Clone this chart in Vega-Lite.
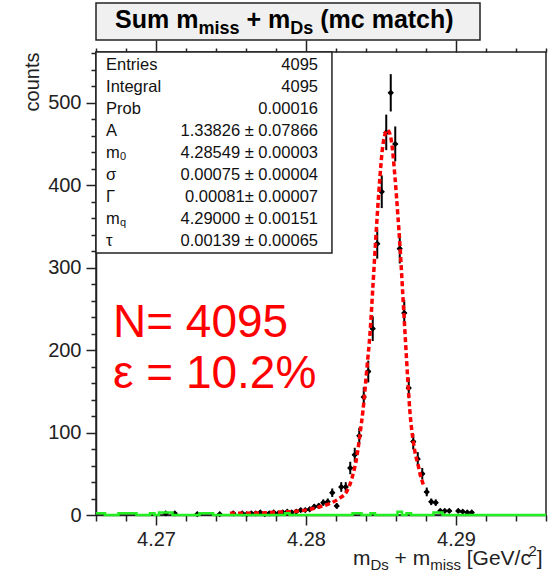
{
  "$schema": "https://vega.github.io/schema/vega-lite/v6.json",
  "width": 450,
  "height": 463,
  "autosize": {"type": "none"},
  "padding": {"left": 96, "top": 52, "right": 11, "bottom": 62},
  "background": "white",
  "config": {
    "view": {"stroke": "#222", "strokeWidth": 1.5},
    "font": "Liberation Sans",
    "axis": {"domainColor": "#222", "tickColor": "#222", "domainWidth": 1.5, "tickWidth": 1.5, "labelColor": "#222", "labelFont": "Liberation Sans", "labelFontSize": 20, "grid": false}
  },
  "datasets": {
    "hist": [
      {"x":4.27065,"xlo":4.2705,"xhi":4.2708,"n":2,"lo":0.586,"hi":3.414},
      {"x":4.27125,"xlo":4.2711,"xhi":4.2714,"n":2,"lo":0.586,"hi":3.414},
      {"x":4.27275,"xlo":4.2726,"xhi":4.2729,"n":1,"lo":0,"hi":2},
      {"x":4.27425,"xlo":4.2741,"xhi":4.2744,"n":1,"lo":0,"hi":2},
      {"x":4.27515,"xlo":4.275,"xhi":4.2753,"n":2,"lo":0.586,"hi":3.414},
      {"x":4.27575,"xlo":4.2756,"xhi":4.2759,"n":2,"lo":0.586,"hi":3.414},
      {"x":4.27605,"xlo":4.2759,"xhi":4.2762,"n":1,"lo":0,"hi":2},
      {"x":4.27635,"xlo":4.2762,"xhi":4.2765,"n":2,"lo":0.586,"hi":3.414},
      {"x":4.27665,"xlo":4.2765,"xhi":4.2768,"n":2,"lo":0.586,"hi":3.414},
      {"x":4.27695,"xlo":4.2768,"xhi":4.2771,"n":3,"lo":1.268,"hi":4.732},
      {"x":4.27725,"xlo":4.2771,"xhi":4.2774,"n":1,"lo":0,"hi":2},
      {"x":4.27755,"xlo":4.2774,"xhi":4.2777,"n":2,"lo":0.586,"hi":3.414},
      {"x":4.27785,"xlo":4.2777,"xhi":4.278,"n":3,"lo":1.268,"hi":4.732},
      {"x":4.27815,"xlo":4.278,"xhi":4.2783,"n":2,"lo":0.586,"hi":3.414},
      {"x":4.27845,"xlo":4.2783,"xhi":4.2786,"n":3,"lo":1.268,"hi":4.732},
      {"x":4.27875,"xlo":4.2786,"xhi":4.2789,"n":4,"lo":2,"hi":6},
      {"x":4.27905,"xlo":4.2789,"xhi":4.2792,"n":3,"lo":1.268,"hi":4.732},
      {"x":4.27935,"xlo":4.2792,"xhi":4.2795,"n":4,"lo":2,"hi":6},
      {"x":4.27965,"xlo":4.2795,"xhi":4.2798,"n":6,"lo":3.551,"hi":8.449},
      {"x":4.27995,"xlo":4.2798,"xhi":4.2801,"n":6,"lo":3.551,"hi":8.449},
      {"x":4.28025,"xlo":4.2801,"xhi":4.2804,"n":7,"lo":4.354,"hi":9.646},
      {"x":4.28055,"xlo":4.2804,"xhi":4.2807,"n":10,"lo":6.838,"hi":13.162},
      {"x":4.28085,"xlo":4.2807,"xhi":4.281,"n":11,"lo":7.683,"hi":14.317},
      {"x":4.28115,"xlo":4.281,"xhi":4.2813,"n":15,"lo":11.127,"hi":18.873},
      {"x":4.28145,"xlo":4.2813,"xhi":4.2816,"n":16,"lo":12,"hi":20},
      {"x":4.28175,"xlo":4.2816,"xhi":4.2819,"n":27,"lo":21.804,"hi":32.196},
      {"x":4.28205,"xlo":4.2819,"xhi":4.2822,"n":11,"lo":7.683,"hi":14.317},
      {"x":4.28235,"xlo":4.2822,"xhi":4.2825,"n":34,"lo":28.169,"hi":39.831},
      {"x":4.28265,"xlo":4.2825,"xhi":4.2828,"n":34,"lo":28.169,"hi":39.831},
      {"x":4.28295,"xlo":4.2828,"xhi":4.2831,"n":57,"lo":49.45,"hi":64.55},
      {"x":4.28325,"xlo":4.2831,"xhi":4.2834,"n":73,"lo":64.456,"hi":81.544},
      {"x":4.28355,"xlo":4.2834,"xhi":4.2837,"n":96,"lo":86.202,"hi":105.798},
      {"x":4.28385,"xlo":4.2837,"xhi":4.284,"n":143,"lo":131.04,"hi":154.96},
      {"x":4.28415,"xlo":4.284,"xhi":4.2843,"n":174,"lo":160.81,"hi":187.19},
      {"x":4.28445,"xlo":4.2843,"xhi":4.2846,"n":226,"lo":210.97,"hi":241.03},
      {"x":4.28475,"xlo":4.2846,"xhi":4.2849,"n":329,"lo":310.86,"hi":347.14},
      {"x":4.28505,"xlo":4.2849,"xhi":4.2852,"n":392,"lo":372.2,"hi":411.8},
      {"x":4.28535,"xlo":4.2852,"xhi":4.2855,"n":464,"lo":442.46,"hi":485.54},
      {"x":4.28565,"xlo":4.2855,"xhi":4.2858,"n":512,"lo":489.37,"hi":534.63},
      {"x":4.28595,"xlo":4.2858,"xhi":4.2861,"n":450,"lo":428.79,"hi":471.21},
      {"x":4.28625,"xlo":4.2861,"xhi":4.2864,"n":323,"lo":305.03,"hi":340.97},
      {"x":4.28655,"xlo":4.2864,"xhi":4.2867,"n":245,"lo":229.35,"hi":260.65},
      {"x":4.28685,"xlo":4.2867,"xhi":4.287,"n":154,"lo":141.59,"hi":166.41},
      {"x":4.28715,"xlo":4.287,"xhi":4.2873,"n":89,"lo":79.566,"hi":98.434},
      {"x":4.28745,"xlo":4.2873,"xhi":4.2876,"n":68,"lo":59.754,"hi":76.246},
      {"x":4.28775,"xlo":4.2876,"xhi":4.2879,"n":50,"lo":42.929,"hi":57.071},
      {"x":4.28805,"xlo":4.2879,"xhi":4.2882,"n":28,"lo":22.708,"hi":33.292},
      {"x":4.28835,"xlo":4.2882,"xhi":4.2885,"n":16,"lo":12,"hi":20},
      {"x":4.28865,"xlo":4.2885,"xhi":4.2888,"n":15,"lo":11.127,"hi":18.873},
      {"x":4.28895,"xlo":4.2888,"xhi":4.2891,"n":5,"lo":2.764,"hi":7.236},
      {"x":4.28925,"xlo":4.2891,"xhi":4.2894,"n":5,"lo":2.764,"hi":7.236},
      {"x":4.28955,"xlo":4.2894,"xhi":4.2897,"n":5,"lo":2.764,"hi":7.236},
      {"x":4.29015,"xlo":4.29,"xhi":4.2903,"n":5,"lo":2.764,"hi":7.236},
      {"x":4.29045,"xlo":4.2903,"xhi":4.2906,"n":4,"lo":2,"hi":6},
      {"x":4.29075,"xlo":4.2906,"xhi":4.2909,"n":3,"lo":1.268,"hi":4.732},
      {"x":4.29105,"xlo":4.2909,"xhi":4.2912,"n":3,"lo":1.268,"hi":4.732}
    ],
    "fit": [
      {"x":4.27493,"f":2},{"x":4.27693,"f":2.5},{"x":4.27827,"f":3.5},{"x":4.2796,"f":5},
      {"x":4.28027,"f":7},{"x":4.28093,"f":10},{"x":4.2816,"f":14},{"x":4.2822,"f":20},
      {"x":4.28273,"f":29},{"x":4.28307,"f":45},{"x":4.2834,"f":72},{"x":4.2836,"f":98},
      {"x":4.2838,"f":127},{"x":4.28407,"f":180},{"x":4.28427,"f":221},{"x":4.28447,"f":280},
      {"x":4.28473,"f":358},{"x":4.28493,"f":410},{"x":4.28507,"f":440},{"x":4.28527,"f":462},
      {"x":4.2854,"f":467},{"x":4.28553,"f":465},{"x":4.28573,"f":449},{"x":4.28593,"f":410},
      {"x":4.28613,"f":362},{"x":4.28627,"f":325},{"x":4.28647,"f":262},{"x":4.2866,"f":221},
      {"x":4.2868,"f":160},{"x":4.28693,"f":125},{"x":4.28713,"f":92},{"x":4.28727,"f":76},
      {"x":4.28747,"f":61},{"x":4.2876,"f":50},{"x":4.2878,"f":38},{"x":4.28787,"f":34}
    ],
    "green": [
      {"x":4.266,"g":2},{"x":4.2666,"g":0},{"x":4.2675,"g":2},{"x":4.2687,"g":0},
      {"x":4.2696,"g":2},{"x":4.2699,"g":0},{"x":4.2702,"g":3},{"x":4.2711,"g":0},
      {"x":4.2729,"g":2},{"x":4.2738,"g":0},{"x":4.2786,"g":2},{"x":4.2789,"g":0},
      {"x":4.2831,"g":2},{"x":4.2837,"g":0},{"x":4.2843,"g":2},{"x":4.2846,"g":0},
      {"x":4.2861,"g":4},{"x":4.2864,"g":0},{"x":4.2867,"g":2},{"x":4.287,"g":0},
      {"x":4.2885,"g":3},{"x":4.2891,"g":0},{"x":4.296,"g":0}
    ]
  },
  "resolve": {"axis": {"x": "independent", "y": "independent"}},
  "layer": [
    {
      "data": {"name": "hist"},
      "mark": {"type": "rule", "color": "#000", "strokeWidth": 2},
      "encoding": {
        "x": {"field": "x", "type": "quantitative",
          "scale": {"domain": [4.266, 4.296], "nice": false, "zero": false},
          "axis": {"orient": "bottom", "title": null, "values": [4.27, 4.28, 4.29], "format": ".2f",
            "tickSize": 10, "labelPadding": 4, "labelOverlap": false, "labelFlush": false}},
        "y": {"field": "lo", "type": "quantitative",
          "scale": {"domain": [0, 561.5], "nice": false, "zero": false},
          "axis": {"orient": "left", "title": "counts", "values": [0, 100, 200, 300, 400, 500],
            "tickSize": 10, "labelPadding": 5, "labelOverlap": false,
            "titleFont": "Liberation Sans", "titleFontSize": 20, "titleFontWeight": "normal", "titleColor": "#222",
            "titleAngle": 270, "titleAlign": "right", "titleBaseline": "alphabetic", "titleX": -58, "titleY": 0}},
        "y2": {"field": "hi"}
      }
    },
    {
      "data": {"name": "hist"},
      "mark": {"type": "rule", "color": "#000", "strokeWidth": 2},
      "encoding": {
        "x": {"field": "xlo", "type": "quantitative",
          "axis": {"orient": "bottom", "title": null, "labels": false, "domain": false,
            "values": [4.266,4.268,4.272,4.274,4.276,4.278,4.282,4.284,4.286,4.288,4.292,4.294,4.296], "tickSize": 6}},
        "x2": {"field": "xhi"},
        "y": {"field": "n", "type": "quantitative",
          "axis": {"orient": "left", "title": null, "labels": false, "domain": false,
            "values": [20,40,60,80,120,140,160,180,220,240,260,280,320,340,360,380,420,440,460,480,520,540,560], "tickSize": 5}}
      }
    },
    {
      "data": {"name": "hist"},
      "mark": {"type": "point", "shape": "diamond", "filled": true, "color": "#000", "size": 40, "opacity": 1},
      "encoding": {
        "x": {"field": "x", "type": "quantitative",
          "axis": {"orient": "top", "title": null, "labels": false, "domain": false, "values": [4.27, 4.28, 4.29], "tickSize": 12}},
        "y": {"field": "n", "type": "quantitative", "axis": null}
      }
    },
    {
      "data": {"name": "fit"},
      "mark": {"type": "line", "color": "#ff0000", "strokeWidth": 3.5, "strokeDash": [5, 3], "interpolate": "monotone"},
      "encoding": {
        "x": {"field": "x", "type": "quantitative",
          "axis": {"orient": "top", "title": null, "labels": false, "domain": false,
            "values": [4.266,4.268,4.272,4.274,4.276,4.278,4.282,4.284,4.286,4.288,4.292,4.294,4.296], "tickSize": 4}},
        "y": {"field": "f", "type": "quantitative", "axis": null}
      }
    },
    {
      "data": {"name": "green"},
      "mark": {"type": "line", "color": "#22ee22", "strokeWidth": 2.5, "interpolate": "step-after"},
      "encoding": {
        "x": {"field": "x", "type": "quantitative", "axis": null},
        "y": {"field": "g", "type": "quantitative", "axis": null}
      }
    },
    {
      "data": {"values": [{}]},
      "mark": {"type": "rect", "fill": "white", "stroke": "#222", "strokeWidth": 1.5},
      "encoding": {"x": {"datum": 4.266, "axis": null}, "x2": {"datum": 4.28173}, "y": {"datum": 317.8, "axis": null}, "y2": {"datum": 561.5}}
    },
    {
      "data": {"values": [{}]},
      "mark": {"type": "text", "text": ["Entries","Integral","Prob","A","m","σ","Γ","m","τ"], "align": "left", "baseline": "top", "font": "Liberation Sans", "fontSize": 16.5, "lineHeight": 22, "color": "#111"},
      "encoding": {"x": {"datum": 4.26667, "axis": null}, "y": {"datum": 555.5, "axis": null}}
    },
    {
      "data": {"values": [{}]},
      "mark": {"type": "text", "text": "0", "align": "left", "baseline": "top", "font": "Liberation Sans", "fontSize": 11, "dx": 14, "dy": 94, "color": "#111"},
      "encoding": {"x": {"datum": 4.26667, "axis": null}, "y": {"datum": 555.5, "axis": null}}
    },
    {
      "data": {"values": [{}]},
      "mark": {"type": "text", "text": "q", "align": "left", "baseline": "top", "font": "Liberation Sans", "fontSize": 11, "dx": 14, "dy": 160, "color": "#111"},
      "encoding": {"x": {"datum": 4.26667, "axis": null}, "y": {"datum": 555.5, "axis": null}}
    },
    {
      "data": {"values": [{}]},
      "mark": {"type": "text", "text": ["4095","4095","0.00016","1.33826 ± 0.07866","4.28549 ± 0.00003","0.00075 ± 0.00004","0.00081± 0.00007","4.29000 ± 0.00151","0.00139 ± 0.00065"], "align": "right", "baseline": "top", "font": "Liberation Sans", "fontSize": 16.5, "lineHeight": 22, "color": "#111"},
      "encoding": {"x": {"datum": 4.2808, "axis": null}, "y": {"datum": 555.5, "axis": null}}
    },
    {
      "data": {"values": [{}]},
      "mark": {"type": "text", "text": ["N= 4095", "ε = 10.2%"], "align": "left", "baseline": "alphabetic", "font": "Liberation Sans", "fontSize": 46, "lineHeight": 51, "color": "#ff0000"},
      "encoding": {"x": {"datum": 4.26713, "axis": null}, "y": {"datum": 215.9, "axis": null}}
    },
    {
      "data": {"values": [{}]},
      "mark": {"type": "rect", "fill": "#f0f0f0", "stroke": "#222", "strokeWidth": 1.5},
      "encoding": {"x": {"datum": 4.266, "axis": null}, "x2": {"datum": 4.2916}, "y": {"datum": 576.1, "axis": null}, "y2": {"datum": 621}}
    },
    {
      "data": {"values": [{}]},
      "mark": {"type": "text", "text": "Sum m", "align": "left", "baseline": "alphabetic", "font": "Liberation Sans", "fontWeight": "bold", "fontSize": 25, "color": "#000"},
      "encoding": {"x": {"datum": 4.26727, "axis": null}, "y": {"datum": 590.7, "axis": null}}
    },
    {
      "data": {"values": [{}]},
      "mark": {"type": "text", "text": "miss", "align": "left", "baseline": "alphabetic", "font": "Liberation Sans", "fontWeight": "bold", "fontSize": 18, "dx": 83.4, "dy": 6, "color": "#000"},
      "encoding": {"x": {"datum": 4.26727, "axis": null}, "y": {"datum": 590.7, "axis": null}}
    },
    {
      "data": {"values": [{}]},
      "mark": {"type": "text", "text": "+ m", "align": "left", "baseline": "alphabetic", "font": "Liberation Sans", "fontWeight": "bold", "fontSize": 25, "dx": 131.4, "color": "#000"},
      "encoding": {"x": {"datum": 4.26727, "axis": null}, "y": {"datum": 590.7, "axis": null}}
    },
    {
      "data": {"values": [{}]},
      "mark": {"type": "text", "text": "Ds", "align": "left", "baseline": "alphabetic", "font": "Liberation Sans", "fontWeight": "bold", "fontSize": 18, "dx": 175.2, "dy": 6, "color": "#000"},
      "encoding": {"x": {"datum": 4.26727, "axis": null}, "y": {"datum": 590.7, "axis": null}}
    },
    {
      "data": {"values": [{}]},
      "mark": {"type": "text", "text": "(mc match)", "align": "left", "baseline": "alphabetic", "font": "Liberation Sans", "fontWeight": "bold", "fontSize": 25, "dx": 205.2, "color": "#000"},
      "encoding": {"x": {"datum": 4.26727, "axis": null}, "y": {"datum": 590.7, "axis": null}}
    },
    {
      "data": {"values": [{}]},
      "mark": {"type": "text", "text": "m", "align": "left", "baseline": "alphabetic", "font": "Liberation Sans", "fontSize": 21, "color": "#222"},
      "encoding": {"x": {"datum": 4.28313, "axis": null}, "y": {"datum": -60.6, "axis": null}}
    },
    {
      "data": {"values": [{}]},
      "mark": {"type": "text", "text": "Ds", "align": "left", "baseline": "alphabetic", "font": "Liberation Sans", "fontSize": 15, "dx": 17.5, "dy": 5, "color": "#222"},
      "encoding": {"x": {"datum": 4.28313, "axis": null}, "y": {"datum": -60.6, "axis": null}}
    },
    {
      "data": {"values": [{}]},
      "mark": {"type": "text", "text": "+ m", "align": "left", "baseline": "alphabetic", "font": "Liberation Sans", "fontSize": 21, "dx": 41.6, "color": "#222"},
      "encoding": {"x": {"datum": 4.28313, "axis": null}, "y": {"datum": -60.6, "axis": null}}
    },
    {
      "data": {"values": [{}]},
      "mark": {"type": "text", "text": "miss", "align": "left", "baseline": "alphabetic", "font": "Liberation Sans", "fontSize": 15, "dx": 77.2, "dy": 5, "color": "#222"},
      "encoding": {"x": {"datum": 4.28313, "axis": null}, "y": {"datum": -60.6, "axis": null}}
    },
    {
      "data": {"values": [{}]},
      "mark": {"type": "text", "text": "[GeV/c", "align": "left", "baseline": "alphabetic", "font": "Liberation Sans", "fontSize": 21, "dx": 113.8, "color": "#222"},
      "encoding": {"x": {"datum": 4.28313, "axis": null}, "y": {"datum": -60.6, "axis": null}}
    },
    {
      "data": {"values": [{}]},
      "mark": {"type": "text", "text": "2", "align": "left", "baseline": "alphabetic", "font": "Liberation Sans", "fontSize": 15, "dx": 175.5, "dy": -9, "color": "#222"},
      "encoding": {"x": {"datum": 4.28313, "axis": null}, "y": {"datum": -60.6, "axis": null}}
    },
    {
      "data": {"values": [{}]},
      "mark": {"type": "text", "text": "]", "align": "left", "baseline": "alphabetic", "font": "Liberation Sans", "fontSize": 21, "dx": 183.8, "color": "#222"},
      "encoding": {"x": {"datum": 4.28313, "axis": null}, "y": {"datum": -60.6, "axis": null}}
    }
  ]
}
